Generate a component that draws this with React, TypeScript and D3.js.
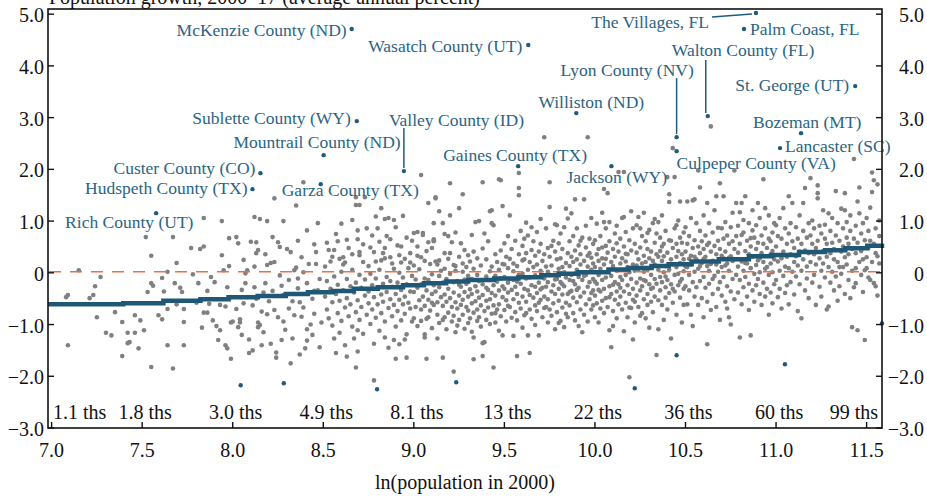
import React from "react";
import * as d3 from "d3";

const W = 927;
const H = 498;
const X0 = 48;
const X1 = 882;
const YT = 9;
const YB = 428;

const xTicks = [7.0, 7.5, 8.0, 8.5, 9.0, 9.5, 10.0, 10.5, 11.0, 11.5];
const popLabels = ["1.1", "1.8", "3.0", "4.9", "8.1", "13", "22", "36", "60", "99"];
const yTicks = [-3, -2, -1, 0, 1, 2, 3, 4, 5];

const refLevel = 0.02;

const fitX = [6.98, 7.395, 7.617, 7.822, 7.977, 8.138, 8.293, 8.415, 8.553, 8.668, 8.801, 8.94, 9.056, 9.178, 9.3, 9.444, 9.577, 9.704, 9.8, 9.909, 10.075, 10.186, 10.313, 10.407, 10.534, 10.684, 10.85, 10.977, 11.127, 11.271, 11.382, 11.504, 11.585];
const fitY = [-0.61, -0.59, -0.54, -0.51, -0.47, -0.45, -0.41, -0.375, -0.35, -0.31, -0.28, -0.24, -0.2, -0.17, -0.14, -0.11, -0.085, -0.046, -0.02, 0.01, 0.064, 0.095, 0.13, 0.166, 0.22, 0.26, 0.32, 0.346, 0.4, 0.437, 0.476, 0.525, 0.56];

const labelNames = ["McKenzie County (ND)", "Wasatch County (UT)", "The Villages, FL", "Palm Coast, FL", "Walton County (FL)", "Lyon County (NV)", "Williston (ND)", "Valley County (ID)", "Sublette County (WY)", "Mountrail County (ND)", "Custer County (CO)", "Hudspeth County (TX)", "Garza County (TX)", "Rich County (UT)", "Gaines County (TX)", "Jackson (WY)", "Culpeper County (VA)", "St. George (UT)", "Bozeman (MT)", "Lancaster (SC)"];
const labelX = [8.657, 9.632, 10.889, 10.823, 10.623, 10.451, 9.897, 8.945, 8.685, 8.502, 8.153, 8.109, 8.486, 7.577, 9.576, 10.091, 10.451, 11.437, 11.138, 11.022];
const labelY = [4.713, 4.403, 5.022, 4.713, 3.03, 2.623, 3.088, 1.966, 2.933, 2.275, 1.927, 1.617, 1.714, 1.153, 2.062, 2.062, 2.352, 3.61, 2.7, 2.411];

const outlierX = [8.044, 8.282, 8.797, 9.234, 10.22, 10.451, 11.049, 11.585];
const outlierY = [-2.175, -2.136, -2.252, -2.117, -2.233, -1.595, -1.768, -0.98];

// layout (pixels) for labels: anchor, dx, dy, optional leader line [dx1, dy1, dx2, dy2]
const labelLayout: { a: string; dx: number; dy: number; ln?: number[] }[] = [
  { a: "end", dx: -5, dy: 1 },
  { a: "end", dx: -6, dy: 1 },
  { a: "end", dx: -47, dy: 9, ln: [-44, 4, -4, 1] },
  { a: "start", dx: 6, dy: 0 },
  { a: "start", dx: -36, dy: -66, ln: [-2, -56, -2, -3] },
  { a: "start", dx: -116, dy: -67, ln: [0, -59, 0, -3] },
  { a: "middle", dx: 15, dy: -11 },
  { a: "start", dx: -15, dy: -51, ln: [0, -43, 0, -3] },
  { a: "end", dx: -6, dy: -3 },
  { a: "end", dx: 77, dy: -13 },
  { a: "end", dx: -5, dy: -5 },
  { a: "end", dx: -5, dy: -1 },
  { a: "start", dx: -39, dy: 6 },
  { a: "start", dx: -91, dy: 9 },
  { a: "start", dx: -75, dy: -11 },
  { a: "start", dx: -45, dy: 11 },
  { a: "start", dx: 0, dy: 12 },
  { a: "end", dx: -6, dy: -1 },
  { a: "start", dx: -48, dy: -11 },
  { a: "start", dx: 5, dy: -2 },
];

// scatter: "x:y,y,..." groups
const band70 = `7.08:-.47 7.09:-.43,-1.40 7.15:.05 7.21:-.49 7.23:-.43 7.24:-.26 7.25:-.86 7.27:-.08 7.30:-1.16 7.33:-1.21 7.35:-.76 7.39:-.95,-1.61 7.42:-1.36,-1.16 7.43:-1.34 7.46:-1.16,-.82 7.48:-1.46 7.49:-.92`;

const band75 = `7.51:-1.11 7.52:.69 7.53:-.37 7.55:-1.82,.33,-.20 7.56:-.25 7.59:-.82 7.61:-.10,-.90 7.62:-.36 7.64:.02,-.70,-1.40 7.67:.69,-1.85 7.68:-.20 7.69:-.61,.19 7.71:-.29 7.72:-.37 7.73:-1.40,-.70,-.95 7.77:.48 7.78:-.03 7.80:-.58 7.81:-.20 7.82:.46,-.51 7.83:-1.06 7.84:.51,-.77,1.06 7.86:-.77,-.35 7.87:-.60 7.88:-.08 7.89:-.92 7.90:-.18 7.91:-1.03 7.92:-1.30 7.93:-1.11,-.62 7.94:.34,1.00 7.95:.05 7.96:-1.40,-.65 7.97:-1.46,-.28 7.98:.13,.67 7.99:-1.66,-.96,-.47`;

const band80 = `8.00:-.94 8.02:.69,-.70 8.03:.57,-1.05 8.04:-.90,-.96 8.05:-.33,-1.20 8.06:-.59,.25 8.07:-.20,-.01 8.08:-.47,.05 8.09:-1.29,-1.55 8.10:.60 8.11:-1.50,-.63 8.12:1.08,-.28,.12 8.13:.38,.59,-.50 8.14:.44,-1.05,-.96 8.15:-1.01,1.04 8.16:-1.40,-.75 8.17:-.38,-1.15 8.18:.36,-.20 8.19:.15,1.00,-.80 8.20:-.55 8.21:.19,-1.37 8.22:.69,-.35 8.23:.21,-.72,1.44 8.24:-1.64,-1.54 8.25:.59,-.86 8.26:.50,-.05 8.27:-.25,-1.30 8.28:-.94,-.43,1.00 8.29:-1.10 8.30:.46 8.31:-.69,-.14 8.32:.40,-1.75 8.33:-1.27,-.55 8.34:-.82,.05 8.35:1.30,.10 8.36:-.11,-.30,.62 8.37:-1.58,-.57 8.38:-.85,.30 8.39:-.67,.01,1.75 8.40:-1.46 8.41:-1.09,-1.31,.82,-.20 8.42:.17 8.43:-1.00 8.44:-.50,-1.20 8.45:-.35,-.79,.55 8.46:.17,.40 8.47:-.34,.96 8.48:-1.44,-.12 8.49:-.96`;

const band85 = `8.51:.12,-.46 8.52:-.71,-.16,.58 8.53:-.88,.44 8.54:.22,-.31 8.55:-.57,-1.02,.31 8.56:.44,-1.27,-.07 8.57:.75,-.41,-1.55 8.58:-.78,-.23,.61 8.59:-1.16,-.54,.27 8.60:-.93,.02,.95 8.61:.30,.16,-.34 8.62:.20,-.67,-1.40 8.63:-.12,-.49,-1.62,.64 8.64:-.84,.48 8.65:-.26,-.61 8.66:.06,-1.04,1.02,.36 8.67:-1.27,-.38 8.68:1.46,1.31,-1.83,-.76,-.19 8.69:.82,.65,-1.11,-1.52,-.53 8.70:.40,.34,1.31,-.91,-.04 8.71:-.29,-.66 8.72:-1.18,.55,.21 8.73:1.46,-.44,-.13 8.74:.86,-.81 8.75:.13,-.36,-.59 8.76:-.02,-.99,.49 8.77:-.24,-.71,.72 8.78:.40,-1.37,-2.08,-.47 8.79:.22,1.09,-.11,-.87 8.80:-.61,-.29,.86 8.81:.60,-1.12,.06 8.82:.24,-.42,-.78,1.25 8.83:-.21,-.56,.38 8.84:.28,1.04,-.94,.48,-1.25 8.85:-.08,-.37,.71 8.86:1.06,-.68,-1.45 8.87:.65,.30,-.16,-.51 8.88:.18,-.84,-.27 8.89:1.02,-1.30,.08,-.62 8.90:-1.66,.88,-1.04,-.41 8.91:-.19,-.74,.53 8.92:.34,-.52,.00,-1.38 8.93:.20,-.33,-.92,.51 8.94:-.61,-.09,1.10 8.95:-1.29,-.46,-.79,.27 8.96:-1.64,-.22,-1.19,.68 8.97:-.58,.09 8.98:.38,.20,-.36,-.69 8.99:-.06,-.94,.62`;

const band90 = `9.00:.77,-.37,-.88,.14 9.01:-.13,-.66 9.02:.51,.79,-1.03,-.29,.33 9.03:-.53,.07 9.04:.30,1.89,-.22,-.93,-.71 9.05:.73,.77,-.46 9.06:-1.19,-1.25,-.64,.23,-.11 9.07:-1.66,-.34,.42,-.89 9.08:.59,1.35,-.86,-.14,-.52 9.09:-.73,.17 9.10:-.41,-1.07,.48,-.03,-.58 9.11:.65,.61,.96,.63,-.62,-.24 9.12:.22,1.44,1.46,-.36 9.13:.16,-1.27,-.81,-.57 9.14:.24,1.19,-.97,-.28,-.06 9.15:-.47,.04 9.16:.96,-1.64,-.19,-.64,-.91 9.17:.75,.38,-.42,-.86,.08 9.18:-.12,-.56,-1.09 9.19:.71,-.31,-.77,.27 9.20:.38,1.11,1.73,-.49,-.02 9.21:.59,-.66,-.94 9.22:.15,-1.91,-.38,-.83,-.18 9.23:.13,.78,-1.15,-.57,.04 9.24:-.16,-.69,-1.02 9.25:1.25,-.44,-.91,.31,-.23 9.26:.57,-.27,-.62 9.27:1.52,-.52,-.81,.18,.02 9.28:-.13,-.37,-1.08,.44 9.29:-.66,-.21,.11 9.30:.34,-.46,-.73,-.06,-.97 9.31:-.32,-.88,.22 9.32:.73,-.59,-.12,-1.14,-.41 9.33:-1.25,-1.67,-.77,.08,.41 9.34:.98,-.26,-.55 9.35:-.04,-.71,.28,-.93,-.36 9.36:1.00,-.48,-.86,-.16 9.37:.14,-.63,-1.04 9.38:1.75,-1.36,-1.61,-.22,.47,-.43 9.39:.76,-1.34,-.74 9.40:-.07,-.54,.26,-.91,-.29 9.41:-.33,.61,-.67 9.42:1.19,-.14,-.51,-.99,.03 9.43:.96,1.21,-.39,-.79,.12 9.44:.92,-1.83,-.24,-.63 9.45:-.44,.36,-.96,-.06,-.78 9.46:-.71,-.17,.21 9.47:1.81,-.34,-.61,.06,-1.12 9.48:1.79,-.84,-.11,.43 9.49:1.29,-1.21,-.47,-.26,.17`;

const band95 = `9.50:-.31,.16,-.72,.57,-.08 9.51:-.53,.31,-.94 9.52:-.38,.09,.71,-.19,-.64 9.53:1.11,-.66,-.12,.27 9.54:-.87,-.33,.46 9.55:-1.22,-.51,.18,-.14,.03 9.56:-.27,.62,-.76 9.57:-1.61,-.41,.13,-.92,-.17 9.58:1.93,1.64,1.50,-.04,-.58,.36 9.59:-.21,.81,-.69 9.60:-.46,-.02,.52,-1.06,.24 9.61:.26,-.31,-.82,.66 9.62:-.11,-.56,.38,.97,-.78 9.63:-1.21,-.34,.06,.72 9.64:-1.55,-.71,.21,-.09,-.43 9.65:.44,-.24,-.89,.88 9.66:-.48,.11,.61 9.67:-.63,-.05,.33,-1.01,-.27 9.68:.16,-.39,.79,-.74 9.69:-1.21,-.19,.41,-.58 9.70:.04,-.52,.56,1.04,-.32 9.71:-.29,.23,-.86 9.72:2.62,-.11,-.46,.36,-.68 9.73:-.66,.12,.86,-.27 9.74:.48,-.18,-.96,-.51,.02 9.75:1.75,1.27,-.04,.31,-.71 9.76:-.83,.14,-.36,.52 9.77:.62,-.24,-.59 9.78:-.41,.41,.94,-1.09,-.13 9.79:.92,-.12,-.76,.26 9.80:-.54,.08,.57,-.31,-.97 9.81:.28,-.93,-.18,.76 9.82:-.42,.46,-.67,.11,-.22 9.83:.01,-.26,.88,-1.05 9.84:1.24,-.58,.19,-.09,-.79 9.85:1.05,.38,-.41,-.86 9.86:-.14,.61,-.63,.13,-.37 9.87:.31,-.35,-.04,1.15 9.88:-.78,.21,.71,-.48,-.16 9.89:1.42,-.22,.43,-.92 9.90:.06,-.57,.26,.86,-.33 9.91:-1.03,-.29,.53,-.08 9.92:.16,-.71,.36,-.46,.62 9.93:.68,-.14,-1.15,.01 9.94:1.42,-.38,.23,-.81,-.06 9.95:.49,-.04,-.61,.91 9.96:2.62,.12,-.27,-.94,.33 9.97:.38,-.51,.66,-.18 9.98:-.71,.06,.29,1.06,-.39 9.99:.56,-.34,-.12,-.63,.18`;

const band100 = `10.00:.11,-.44,.63,-.86,-.17 10.01:-.21,.36,.95,-.59 10.02:.46,-.04,-.96,.23,-.33 10.03:-.36,.71,.08,-.69 10.04:.28,-.54,1.16,-.14,.49 10.05:1.62,.98,-.31,.16,-.78 10.06:.52,-.09,-.49,.86,.27 10.07:1.54,.02,-.66,.39 10.08:.98,-.26,.61,-1.11,-.47 10.09:-1.44,-.41,.21,-.06 10.10:-1.03,.46,-.74,.13,-.23 10.11:.76,-.18,.31,-.52 10.12:-.36,.04,.91,-.88,.57 10.13:1.95,.41,-.22,-.61 10.14:.18,-.46,.66,-.08,-.29 10.15:-.71,.28,-.14,1.06 10.16:1.95,1.08,-1.13,.51,-.36 10.17:-.04,.22,-.58,.79,.37 10.18:.36,-.86,.11,-.24 10.19:-2.02,.63,-.41,.01,-.67 10.20:1.19,-.12,.43,-.68 10.21:-1.29,.16,-.31,.86,-.52 10.22:.56,-.56,.04,-.96 10.23:-.19,.39,.92,-.44,.14 10.24:1.08,.07,-.66,.26 10.25:.86,-.34,.49,-.11,-.83 10.26:-.78,.18,.71,-.26 10.27:.02,-.51,.33,1.16,-.14 10.28:.61,-.16,-.88,.21 10.29:-.41,.46,.06,-.62,.77 10.30:.28,-.22,.83,-1.06 10.31:-.56,.12,.41,-.04,-.31 10.32:.96,-.29,.23,-.76 10.33:.16,.58,-.46,-.12,1.04 10.34:-1.59,.36,-.21,.76 10.35:-1.09,.98,.06,-.53,.31 10.36:.42,-.34,.68,-.08 10.37:-.62,.23,1.11,-.18,.51 10.38:.56,.01,-.91,.32 10.39:-.28,.81,.13,-.48,-.07 10.40:1.85,.39,-.14,-.71 10.41:1.52,1.37,.06,-.39,.63 10.42:-1.27,.62,-.22,.26 10.43:2.41,.16,-.58,.48,-.31 10.44:1.85,-.04,.86,-.36 10.45:.31,-.81,.56,.11,.92 10.46:-.24,.42,-.02,1.01 10.47:1.38,.68,-.48,.19,-.17 10.48:-.12,.36,-.96,.58 10.49:.26,-.31,.78,.03,-.62`;

const band105 = `10.50:.41,-.26,.88,.12 10.51:1.38,.11,-.61,.56 10.52:-.04,.71,-.34,.27 10.53:.33,-.81,1.06,.16 10.54:-1.03,1.40,.48,-.18 10.55:1.42,.02,.63,-.46,.31 10.56:.26,-.28,.96 10.57:1.98,.51,-.62,.08 10.58:1.65,-.16,.38,.81,.13 10.59:.61,-.49,.19 10.60:-.08,.46,1.11,-.86,.27 10.61:.31,-.29,.72 10.62:1.35,-1.38,.13,-.56,.54 10.63:.58,.04,-.21,.96 10.64:2.83,.41,-.72,.17 10.65:-.12,.78,.23,-.41 10.66:.52,-.06,1.21 10.67:1.48,.16,-.66,.36 10.68:-.31,.62,.02,.87 10.69:1.73,.46,-.18,-.91 10.70:.86,.11,-.44,.33 10.71:1.48,.28,-.08,.66 10.72:-.56,.41,.98,.14 10.73:.18,-.26,.72,-.69 10.74:-.86,.56,.04,.29 10.75:-1.00,.32,-.36,.88 10.76:.61,-.12,1.16,.23 10.77:1.98,.26,-.51,.46 10.78:1.35,.71,-.04 10.79:.12,-.38,.91,.39 10.80:-1.25,1.17,.56,-.14 10.81:1.35,.22,-.61,.73 10.82:.78,.04,-.28,1.02 10.83:1.48,.42,-.08,.19 10.84:-.46,.62,.18 10.85:.96,-.21,.36,-.72 10.86:-1.21,.51,.09,.67 10.87:.31,-.34,.82,1.21 10.88:.68,-.02,-.56 10.89:.15,.46,-.24,.92 10.90:1.35,.58,-.12,.24 10.91:-.41,.28,1.06,.01 10.92:.72,-.62,.38 10.93:1.81,.21,-.19,.56 10.94:1.25,-.46,.86,.08 10.95:.11,.48,-.31 10.96:.66,-.04,1.11,-.81 10.97:.36,-.38,.18,.61 10.98:-.59,.78,.42,.01 10.99:.26,-.22,.96`;

const band110 = `11.00:.51,-.14,.92 11.01:.22,-.47,.71 11.02:.04,1.06,-.31 11.03:.66,.28,-.69 11.04:.41,-.06,1.25 11.05:.86,.12,-.39 11.06:-.24,.56,.31 11.07:1.48,.76,-.61,.09 11.08:.36,-.18,.96 11.09:1.35,.61,.02 11.10:-.42,.48,.21 11.11:.88,-.07,.32 11.12:.14,.66,-.74 11.13:1.11,.41,-.22 11.14:-.88,.56,.04 11.15:1.35,.26,.81 11.16:1.64,-.34,.43 11.17:.68,.12,-.11 11.18:.96,-.49,.38 11.19:1.83,.21,.72 11.20:-.19,.56,1.01 11.21:.36,.86,-.04 11.22:.48,-.62,.16 11.23:1.69,1.54,1.44,.62 11.24:.28,-.27,.91 11.25:.76,.04,-.46 11.26:1.21,.42,.18 11.27:-.09,.66,.93 11.28:.31,-.71,.56 11.29:1.15,-.65,.11 11.30:.81,.38,-.19 11.31:.02,.58,1.06 11.32:-.34,.46,.26 11.33:1.58,.72,-.07 11.34:.21,.96,-.54 11.35:.62,.11,-.26 11.36:.41,1.24,-.02 11.37:.11,.86,.51 11.38:1.54,1.21,.30,-.41 11.39:.68,.16,.98 11.40:-.14,.56,.36 11.41:.81,-.49,1.11 11.42:-1.05,.46,.04 11.43:2.20,-.28,.66 11.44:.09,-.20,.91,.38 11.45:1.38,-1.11,.58 11.46:1.65,1.15,.21 11.47:-.04,.76,.42 11.48:.96,-.37,.26 11.49:.05,-1.30,.63 11.50:.30,.09,1.06 11.51:.48,-.09,.81 11.52:-.14,.62,1.26 11.53:1.56,1.94,.21 11.54:1.79,-.20,.56 11.55:-.26,.86,.38 11.56:1.71,.32,-.44 11.57:.18,.71,1.01`;

const bands = [band70, band75, band80, band85, band90, band95, band100, band105, band110];

function parseBand(s: string) {
  const out: { x: number; y: number }[] = [];
  s.trim().split(/\s+/).forEach((g) => {
    const [xs, ys] = g.split(":");
    ys.split(",").forEach((v) => out.push({ x: +xs, y: +v }));
  });
  return out;
}

const BLUE = "#215b7a";
const GRAY = "#808080";
const FONT = "'Liberation Serif', 'Times New Roman', serif";

export default function App() {
  const x = d3.scaleLinear().domain([6.98, 11.585]).range([X0, X1]);
  const y = d3.scaleLinear().domain([-3, 5.1]).range([YB, YT]);
  const pts = bands.flatMap(parseBand);

  const fitData = fitX.map((v, i) => [v, fitY[i]] as [number, number]);
  const line = d3
    .line<[number, number]>()
    .x((d) => x(d[0]))
    .y((d) => y(d[1]))
    .curve(d3.curveStepAfter);

  const fmtY = (v: number) => (v === 0 ? "0" : (v < 0 ? "\u2212" : "") + Math.abs(v).toFixed(1));

  return (
    <svg
      width={W}
      height={H}
      style={{ position: "absolute", left: 0, top: 0, background: "#fff" }}
      fontFamily={FONT}
    >
      <text x={49} y={3.5} fontSize={20} fill="#111">
        Population growth, 2000–17 (average annual percent)
      </text>

      {pts.map((p, i) => (
        <circle key={i} cx={x(p.x)} cy={y(p.y)} r={2.3} fill={GRAY} />
      ))}

      <line
        x1={X0 + 1}
        x2={X1}
        y1={y(refLevel)}
        y2={y(refLevel)}
        stroke="#e4724e"
        strokeWidth={1.6}
        strokeDasharray="12,9"
      />

      <path d={line(fitData) || ""} fill="none" stroke="#1f5877" strokeWidth={4.5} />

      {outlierX.map((v, i) => (
        <circle key={"o" + i} cx={x(v)} cy={y(outlierY[i])} r={2.2} fill={BLUE} />
      ))}

      {labelNames.map((name, i) => {
        const cx = x(labelX[i]);
        const cy = y(labelY[i]);
        const L = labelLayout[i];
        return (
          <g key={"l" + i}>
            <circle cx={cx} cy={cy} r={2.2} fill={BLUE} />
            {L.ln && (
              <line
                x1={cx + L.ln[0]}
                y1={cy + L.ln[1]}
                x2={cx + L.ln[2]}
                y2={cy + L.ln[3]}
                stroke={BLUE}
                strokeWidth={1.5}
              />
            )}
            <text
              x={cx + L.dx}
              y={cy + L.dy}
              textAnchor={L.a as any}
              dominantBaseline="central"
              fontSize={17.5}
              fill="#2b6484"
            >
              {name}
            </text>
          </g>
        );
      })}

      <rect x={X0} y={YT} width={X1 - X0} height={YB - YT} fill="none" stroke="#111" strokeWidth={1.6} />

      {yTicks.map((v) => (
        <g key={"y" + v}>
          <line x1={X0} x2={X0 + 6} y1={y(v)} y2={y(v)} stroke="#111" strokeWidth={1.4} />
          <line x1={X1 - 6} x2={X1} y1={y(v)} y2={y(v)} stroke="#111" strokeWidth={1.4} />
          <text x={44} y={y(v) + 1} textAnchor="end" dominantBaseline="central" fontSize={20} fill="#111">
            {fmtY(v)}
          </text>
          <text x={924} y={y(v) + 1} textAnchor="end" dominantBaseline="central" fontSize={20} fill="#111">
            {fmtY(v)}
          </text>
        </g>
      ))}

      {xTicks.map((v, i) => {
        const px = x(v);
        const last = i === xTicks.length - 1;
        const first = i === 0;
        return (
          <g key={"x" + v}>
            <line x1={px} x2={px} y1={YB} y2={YB - 6} stroke="#111" strokeWidth={1.4} />
            <text x={px} y={457} textAnchor="middle" fontSize={20} fill="#111">
              {v.toFixed(1)}
            </text>
            <text
              x={first ? X0 + 5 : last ? X1 - 4 : px + 3}
              y={419}
              textAnchor={first ? "start" : last ? "end" : "middle"}
              fontSize={20}
              fill="#111"
            >
              {popLabels[i] + " ths"}
            </text>
          </g>
        );
      })}

      <text x={(X0 + X1) / 2} y={489} textAnchor="middle" fontSize={20} fill="#111">
        ln(population in 2000)
      </text>
    </svg>
  );
}
